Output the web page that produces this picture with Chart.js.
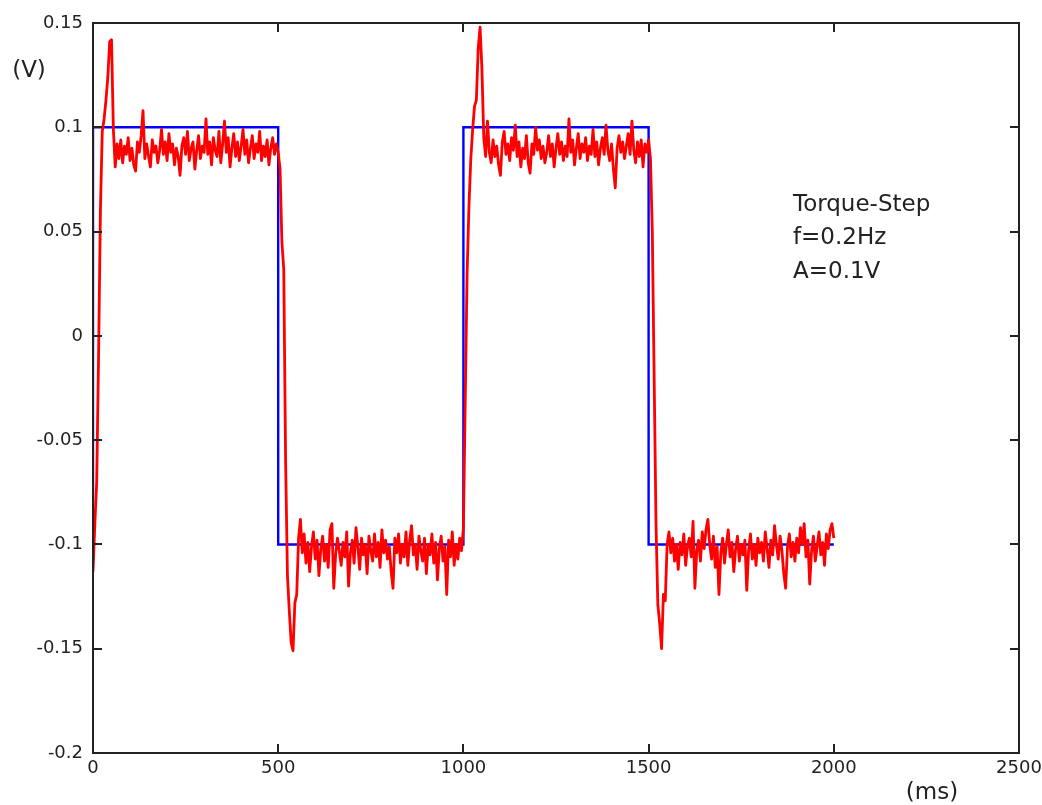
<!DOCTYPE html>
<html>
<head>
<meta charset="utf-8">
<title>Torque-Step</title>
<script src="https://cdn.jsdelivr.net/npm/chart.js@4.4.1/dist/chart.umd.min.js"></script>
<style>
  html, body { margin: 0; padding: 0; background: #fff; }
  canvas { display: block; }
</style>
</head>
<body>
<canvas id="stepChart" width="1042" height="805"></canvas>
<script>
// ============================
// DATA
// ============================
// measured signal is sampled every 5 ms
const sampleStepMs = 5;

// measured response (V), 0 - 495 ms
const response1 = [
  -0.113, -0.09, -0.07, -0.01, 0.06, 0.098, 0.104, 0.113, 0.124, 0.141,
  0.142, 0.099, 0.081, 0.092, 0.085, 0.094, 0.083, 0.091, 0.087, 0.095,
  0.084, 0.09, 0.082, 0.079, 0.093, 0.088, 0.096, 0.108, 0.085, 0.092,
  0.086, 0.081, 0.094, 0.088, 0.091, 0.083, 0.089, 0.099, 0.087, 0.093,
  0.084, 0.097, 0.088, 0.092, 0.082, 0.09, 0.086, 0.077, 0.091, 0.095,
  0.087, 0.098, 0.084, 0.09, 0.093, 0.08, 0.089, 0.096, 0.085, 0.091,
  0.088, 0.104, 0.087, 0.093, 0.082, 0.095, 0.089, 0.086, 0.098, 0.083,
  0.092, 0.103, 0.088, 0.095, 0.081, 0.09, 0.097, 0.086, 0.093, 0.084,
  0.091, 0.099, 0.087, 0.094, 0.083, 0.09, 0.096, 0.085, 0.092, 0.088,
  0.098, 0.084, 0.091, 0.086, 0.094, 0.082, 0.09, 0.095, 0.087, 0.092
];
// 500 - 995 ms
const response2 = [
  0.088, 0.08, 0.045, 0.032, -0.06, -0.115, -0.132, -0.147, -0.151, -0.128,
  -0.124, -0.097, -0.088, -0.104, -0.095, -0.109, -0.099, -0.113, -0.101, -0.094,
  -0.107, -0.098, -0.115, -0.102, -0.096, -0.108, -0.1, -0.111, -0.093, -0.09,
  -0.121, -0.105, -0.097, -0.103, -0.11, -0.099, -0.106, -0.094, -0.12, -0.104,
  -0.098, -0.109, -0.092, -0.101, -0.112, -0.097, -0.105, -0.1, -0.114, -0.096,
  -0.103, -0.108, -0.095, -0.106, -0.099, -0.111, -0.093, -0.104, -0.098, -0.107,
  -0.101, -0.113, -0.121, -0.097, -0.104, -0.095, -0.109, -0.1, -0.106, -0.094,
  -0.11, -0.098, -0.091, -0.105, -0.1, -0.112, -0.096, -0.103, -0.108, -0.097,
  -0.114, -0.1, -0.105, -0.095, -0.109, -0.099, -0.117, -0.102, -0.096, -0.108,
  -0.101, -0.124, -0.098, -0.106, -0.094, -0.11, -0.1, -0.107, -0.097, -0.103
];
// 1000 - 1495 ms
const response3 = [
  -0.092, -0.03, 0.03, 0.062, 0.085, 0.099, 0.11, 0.113, 0.138, 0.148,
  0.128, 0.095, 0.086, 0.103, 0.088, 0.083, 0.094, 0.086, 0.091, 0.082,
  0.077, 0.093, 0.098, 0.087, 0.092, 0.084, 0.095, 0.089, 0.101, 0.086,
  0.093, 0.081, 0.09, 0.085, 0.096, 0.083, 0.078, 0.092, 0.087, 0.1,
  0.089, 0.094, 0.085, 0.091, 0.083, 0.088, 0.096, 0.086, 0.092, 0.081,
  0.09, 0.097, 0.087, 0.093, 0.084, 0.091, 0.086, 0.104, 0.088, 0.094,
  0.082, 0.09, 0.097, 0.085, 0.092, 0.088, 0.095, 0.084, 0.091, 0.087,
  0.099, 0.086, 0.093, 0.082, 0.09, 0.095, 0.087, 0.101, 0.089, 0.084,
  0.092, 0.08, 0.071, 0.09, 0.096, 0.088, 0.093, 0.085, 0.091, 0.097,
  0.087, 0.103, 0.089, 0.083, 0.093, 0.086, 0.094, 0.081, 0.092, 0.088
];
// 1500 - 2000 ms
const response4 = [
  0.094, 0.085, 0.05, -0.02, -0.09, -0.129, -0.138, -0.15, -0.124, -0.127,
  -0.1, -0.094, -0.104, -0.097, -0.108, -0.1, -0.112, -0.099, -0.105, -0.095,
  -0.11, -0.101, -0.097, -0.106, -0.089, -0.121, -0.103, -0.098, -0.108, -0.094,
  -0.102, -0.093, -0.088, -0.1, -0.107, -0.096, -0.111, -0.101, -0.124, -0.104,
  -0.097, -0.109, -0.1, -0.093, -0.106, -0.099, -0.113, -0.102, -0.096, -0.108,
  -0.1, -0.105, -0.098, -0.122, -0.103, -0.095, -0.107, -0.1, -0.11, -0.097,
  -0.104, -0.099, -0.108, -0.094, -0.102, -0.111, -0.098, -0.105, -0.091, -0.1,
  -0.107, -0.096, -0.103, -0.114, -0.121, -0.101, -0.095, -0.106, -0.099, -0.108,
  -0.097, -0.104, -0.092, -0.1, -0.09, -0.106, -0.098, -0.119, -0.103, -0.096,
  -0.108, -0.101, -0.094, -0.105, -0.099, -0.11, -0.095, -0.102, -0.093, -0.09,
  -0.097
];

// reference step (V)
const stepTimes  = [0, 0, 500, 500, 1000, 1000, 1500, 1500, 2000];
const stepLevels = [-0.1, 0.1, 0.1, -0.1, -0.1, 0.1, 0.1, -0.1, -0.1];

// axes
const xTickValues = [0, 500, 1000, 1500, 2000, 2500];
const xTickLabels = ["0", "500", "1000", "1500", "2000", "2500"];
const yTickValues = [-0.2, -0.15, -0.1, -0.05, 0, 0.05, 0.1, 0.15];
const yTickLabels = ["-0.2", "-0.15", "-0.1", "-0.05", "0", "0.05", "0.1", "0.15"];

const noteLines = ["Torque-Step", "f=0.2Hz", "A=0.1V"];

// ============================
// BUILD POINTS
// ============================
const response = [...response1, ...response2, ...response3, ...response4];
const responsePoints = response.map((v, i) => ({ x: i * sampleStepMs, y: v }));
const stepPoints = stepTimes.map((t, i) => ({ x: t, y: stepLevels[i] }));

const FONT = "'DejaVu Sans', sans-serif";
const INK = "#222";

// frame with inward ticks + text, matlab look
const matlabFrame = {
  id: "matlabFrame",
  afterDraw(chart) {
    const { ctx, chartArea: a, scales } = chart;
    const tick = 9;
    ctx.save();
    ctx.strokeStyle = INK;
    ctx.lineWidth = 2;
    ctx.strokeRect(a.left, a.top, a.right - a.left, a.bottom - a.top);
    ctx.beginPath();
    xTickValues.forEach(v => {
      const px = Math.round(scales.x.getPixelForValue(v));
      ctx.moveTo(px, a.bottom); ctx.lineTo(px, a.bottom - tick);
      ctx.moveTo(px, a.top);    ctx.lineTo(px, a.top + tick);
    });
    yTickValues.forEach(v => {
      const py = Math.round(scales.y.getPixelForValue(v));
      ctx.moveTo(a.left, py);  ctx.lineTo(a.left + tick, py);
      ctx.moveTo(a.right, py); ctx.lineTo(a.right - tick, py);
    });
    ctx.stroke();

    ctx.fillStyle = INK;
    ctx.font = "23px " + FONT;
    ctx.textBaseline = "middle";
    ctx.textAlign = "center";
    ctx.fillText("(V)", 29, 71);
    ctx.fillText("(ms)", 932, 793);
    ctx.textAlign = "left";
    noteLines.forEach((s, i) => ctx.fillText(s, 793, 205 + i * 33.5));
    ctx.restore();
  }
};

// ============================
// INIT CHART
// ============================
const ctx = document.getElementById("stepChart").getContext("2d");

const chart = new Chart(ctx, {
  type: "line",
  data: {
    datasets: [
      {
        data: responsePoints,
        borderColor: "#ff0000",
        borderWidth: 2.8,
        borderJoinStyle: "round",
        pointRadius: 0,
        tension: 0
      },
      {
        data: stepPoints,
        borderColor: "#0000ff",
        borderWidth: 2.4,
        pointRadius: 0,
        tension: 0
      }
    ]
  },
  options: {
    responsive: false,
    animation: false,
    layout: { padding: { top: 23, right: 23, left: 0, bottom: 0 } },
    plugins: {
      legend: { display: false },
      tooltip: { enabled: false }
    },
    scales: {
      x: {
        type: "linear",
        min: 0,
        max: 2500,
        grid: { display: false, drawTicks: false },
        border: { display: false },
        afterBuildTicks: s => { s.ticks = xTickValues.map(v => ({ value: v })); },
        afterFit: s => { s.height = 52; s.paddingLeft = 0; s.paddingRight = 0; },
        ticks: {
          padding: 5,
          maxRotation: 0,
          autoSkip: false,
          color: INK,
          font: { family: FONT, size: 18 },
          callback: (v, i) => xTickLabels[i]
        }
      },
      y: {
        type: "linear",
        min: -0.2,
        max: 0.15,
        grid: { display: false, drawTicks: false },
        border: { display: false },
        afterBuildTicks: s => { s.ticks = yTickValues.map(v => ({ value: v })); },
        afterFit: s => { s.width = 93; s.paddingTop = 0; s.paddingBottom = 0; },
        ticks: {
          padding: 10,
          autoSkip: false,
          color: INK,
          font: { family: FONT, size: 18 },
          callback: (v, i) => yTickLabels[i]
        }
      }
    }
  },
  plugins: [matlabFrame]
});
</script>
</body>
</html>
